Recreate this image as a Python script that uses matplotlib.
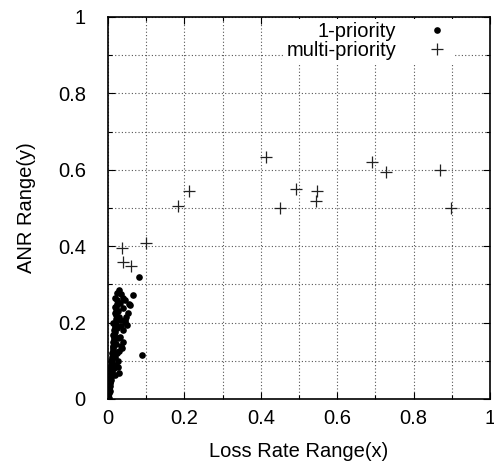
import matplotlib
matplotlib.use("Agg")
import matplotlib.pyplot as plt
from matplotlib.ticker import MultipleLocator, FuncFormatter

plt.rcParams['font.family'] = ['Liberation Sans', 'DejaVu Sans']

# 1-priority points (loss rate range x, ANR range y)
one_x = [0.000, 0.001, 0.000, 0.002, 0.001, 0.003, 0.002, 0.004, 0.003, 0.005,
         0.004, 0.006, 0.005, 0.007, 0.006, 0.008, 0.007, 0.009, 0.008, 0.010,
         0.009, 0.011, 0.010, 0.012, 0.011, 0.013, 0.012, 0.014, 0.013, 0.015,
         0.014, 0.016, 0.015, 0.017, 0.016, 0.018, 0.017, 0.019, 0.018, 0.020,
         0.019, 0.021, 0.020, 0.022, 0.021, 0.023, 0.024,
         0.002, 0.001, 0.004, 0.006, 0.008, 0.010, 0.012, 0.009,
         0.018, 0.027, 0.030, 0.018, 0.036, 0.031, 0.088, 0.025, 0.022, 0.028,
         0.015, 0.020, 0.024,
         0.023, 0.033, 0.065, 0.018, 0.045, 0.031, 0.058, 0.018, 0.040, 0.053,
         0.018, 0.031, 0.045, 0.014, 0.023, 0.040, 0.014, 0.080, 0.056, 0.045,
         0.034, 0.030, 0.026, 0.050, 0.027, 0.040, 0.033, 0.038, 0.028, 0.048]
one_y = [0.000, 0.005, 0.010, 0.015, 0.020, 0.025, 0.030, 0.035, 0.040, 0.045,
         0.050, 0.055, 0.060, 0.065, 0.070, 0.075, 0.080, 0.085, 0.090, 0.095,
         0.100, 0.105, 0.110, 0.115, 0.120, 0.125, 0.130, 0.135, 0.140, 0.145,
         0.150, 0.155, 0.160, 0.165, 0.170, 0.175, 0.180, 0.185, 0.190, 0.195,
         0.200, 0.210, 0.220, 0.230, 0.240, 0.250, 0.260,
         0.003, 0.012, 0.022, 0.042, 0.058, 0.072, 0.088, 0.050,
         0.063, 0.085, 0.069, 0.111, 0.134, 0.163, 0.116, 0.100, 0.145, 0.125,
         0.080, 0.090, 0.120,
         0.278, 0.275, 0.272, 0.264, 0.259, 0.251, 0.246, 0.242, 0.238, 0.226,
         0.225, 0.207, 0.202, 0.199, 0.186, 0.181, 0.168, 0.320, 0.250, 0.207,
         0.190, 0.215, 0.230, 0.195, 0.160, 0.150, 0.140, 0.265, 0.285, 0.215]

# multi-priority points
multi_x = [0.182, 0.212, 0.413, 0.449, 0.493, 0.546, 0.545, 0.691, 0.729, 0.869,
           0.897, 0.037, 0.099, 0.038, 0.059]
multi_y = [0.506, 0.544, 0.633, 0.501, 0.551, 0.544, 0.519, 0.621, 0.594, 0.600,
           0.500, 0.394, 0.408, 0.358, 0.349]

FS = 14.5

fig = plt.figure(figsize=(4.94, 4.62), dpi=100)
ax = fig.add_axes([108/494, 1-399/462, 382/494, 382/462])

ax.plot(one_x, one_y, linestyle='none', marker='o', markersize=4.8,
        color='black', markeredgewidth=0, label='1-priority')
ax.plot(multi_x, multi_y, linestyle='none', marker='+', markersize=8,
        color='#222222', markeredgewidth=0.9, label='multi-priority')

ax.set_xlim(0, 1)
ax.set_ylim(0, 1)
ax.xaxis.set_major_locator(MultipleLocator(0.2))
ax.yaxis.set_major_locator(MultipleLocator(0.2))
ax.xaxis.set_minor_locator(MultipleLocator(0.1))
ax.yaxis.set_minor_locator(MultipleLocator(0.1))
fmt = FuncFormatter(lambda v, p: ('%g' % round(v, 2)))
ax.xaxis.set_major_formatter(fmt)
ax.yaxis.set_major_formatter(fmt)

ax.grid(True, which='both', linestyle=(0, (1, 2)), color='#555555', linewidth=0.8)
ax.set_axisbelow(True)
ax.tick_params(which='both', direction='in', top=True, right=True, labelsize=FS, width=0.8)
ax.tick_params(which='major', length=5)
ax.tick_params(axis='x', which='major', pad=7)
ax.tick_params(axis='y', which='major', pad=16)
ax.tick_params(which='minor', length=3)
for s in ax.spines.values():
    s.set_linewidth(1.2)

ax.set_xlabel('Loss Rate Range(x)', fontsize=FS, labelpad=10)
ax.set_ylabel('ANR Range(y)', fontsize=FS, labelpad=16)

leg = ax.legend(loc='upper right', bbox_to_anchor=(0.91, 1.0), frameon=True,
                fontsize=FS, markerfirst=False,
                handlelength=1.3, handletextpad=1.4, borderaxespad=0.1,
                borderpad=0.15, labelspacing=0.0, fancybox=False)
leg.get_frame().set_edgecolor('none')
leg.get_frame().set_facecolor('white')
leg.get_frame().set_alpha(1)
for t in leg.get_texts():
    t.set_ha('right')
leg._legend_box.align = 'right'

fig.savefig('out.png', dpi=100)
